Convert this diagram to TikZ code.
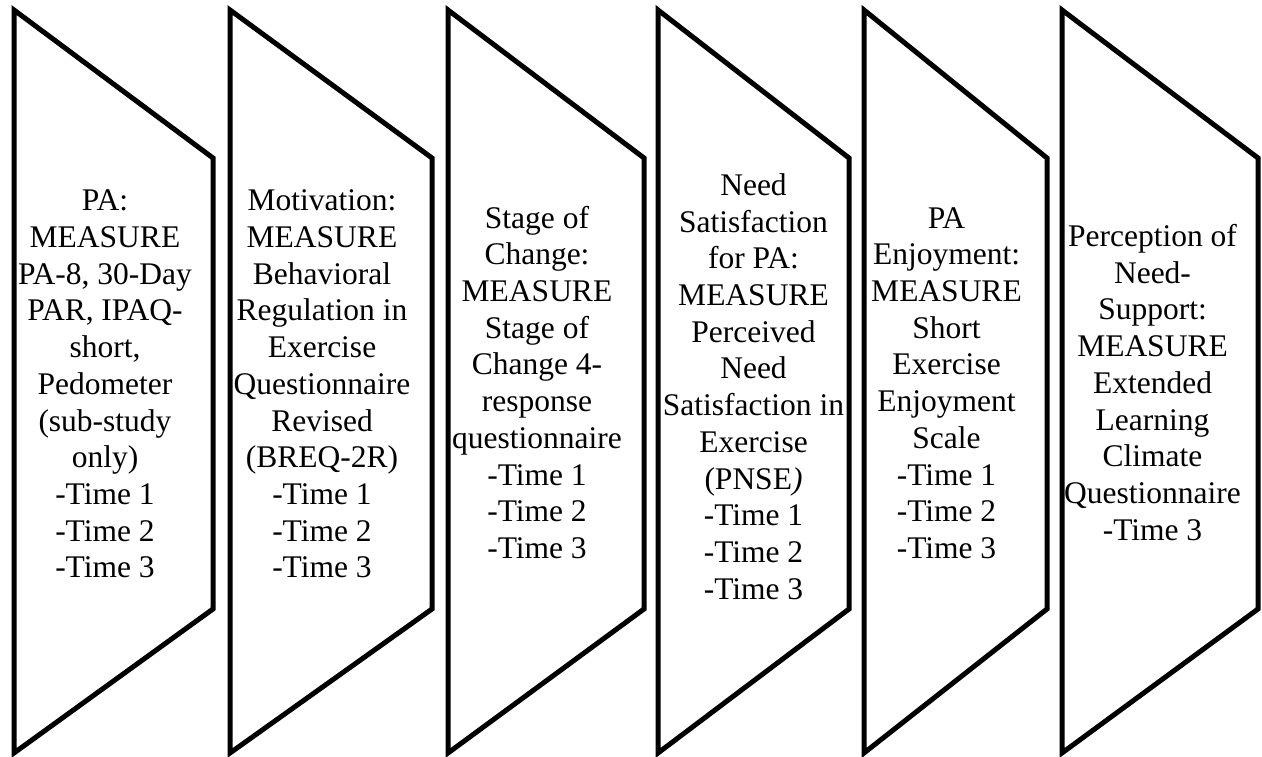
\documentclass[tikz,border=0pt]{standalone}
\usepackage{fontspec}
\setmainfont{Liberation Serif}
\usepackage{tikz}

\begin{document}
\begin{tikzpicture}[x=1pt,y=-1pt,
    panel/.style={draw,line width=5pt,line join=miter},
    measure/.style={align=center,inner sep=0pt,font=\fontsize{31.5}{36.7}\selectfont}]
  \useasboundingbox (0,0) rectangle (1262,757);
  % the six panels
  \foreach \lx/\rx in {14/213,230/432,448/644,658/849,864/1047,1062/1258}{
    \draw[panel] (\lx,10) -- (\rx,158) -- (\rx,609) -- (\lx,753) -- cycle;
  }
  \node[measure] (pa) at (105,387) {\strut PA:\\MEASURE\\PA-8, 30-Day\\PAR, IPAQ-\\short,\\Pedometer\\(sub-study\\only)\\-Time 1\\-Time 2\\-Time 3\strut};
  \node[measure] (motiv) at (322,387) {\strut Motivation:\\MEASURE\\Behavioral\\Regulation in\\Exercise\\Questionnaire\\Revised\\(BREQ-2R)\\-Time 1\\-Time 2\\-Time 3\strut};
  \node[measure] (stage) at (537,386) {\strut Stage of\\Change:\\MEASURE\\Stage of\\Change 4-\\response\\questionnaire\\-Time 1\\-Time 2\\-Time 3\strut};
  \node[measure] (need) at (753.5,390) {\strut Need\\Satisfaction\\for PA:\\MEASURE\\Perceived\\Need\\Satisfaction in\\Exercise\\(PNSE\textit{)}\\-Time 1\\-Time 2\\-Time 3\strut};
  \node[measure] (enjoy) at (946.5,386) {\strut PA\\Enjoyment:\\MEASURE\\Short\\Exercise\\Enjoyment\\Scale\\-Time 1\\-Time 2\\-Time 3\strut};
  \node[measure] (support) at (1152.5,386) {\strut Perception of\\Need-\\Support:\\MEASURE\\Extended\\Learning\\Climate\\Questionnaire\\-Time 3\strut};
\end{tikzpicture}
\end{document}
